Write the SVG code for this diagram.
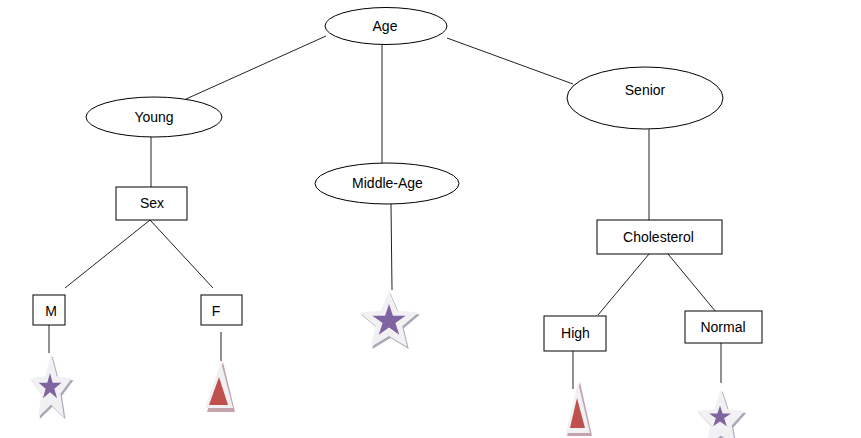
<svg xmlns="http://www.w3.org/2000/svg" xmlns:xlink="http://www.w3.org/1999/xlink" width="861" height="438" viewBox="0 0 861 438">
<style>
.shape{fill:#fff;stroke:#000;stroke-width:1}
.lbl{font-family:"Liberation Sans",Arial,sans-serif;font-size:14px;fill:#000;text-anchor:middle}
.conn line{stroke:#222;stroke-width:1}
.sh{fill:#aaa7b8}
.out{fill:#f1f1f3}
.pur{fill:#8064a2}
.tsh{fill:#c4a4aa}
.red{fill:#c0504d}
</style>
<defs>
<path id="starO" d="M0,-1 L0.2645,-0.3641 L0.9511,-0.309 L0.428,0.1391 L0.5878,0.809 L0,0.45 L-0.5878,0.809 L-0.428,0.1391 L-0.9511,-0.309 L-0.2645,-0.3641 Z"/>
<path id="starI" d="M0,-1 L0.2245,-0.309 L0.9511,-0.309 L0.3633,0.118 L0.5878,0.809 L0,0.382 L-0.5878,0.809 L-0.3633,0.118 L-0.9511,-0.309 L-0.2245,-0.309 Z"/>
</defs>
<rect width="861" height="438" fill="#fff"/>
<g class="conn" id="connectors">
<line x1="326" y1="36" x2="186" y2="99"/>
<line x1="382" y1="44" x2="382" y2="163"/>
<line x1="447" y1="38" x2="573" y2="84"/>
<line x1="151" y1="137" x2="151" y2="187"/>
<line x1="150" y1="220" x2="65" y2="288"/>
<line x1="150" y1="220" x2="213" y2="288"/>
<line x1="649" y1="129" x2="649" y2="220"/>
<line x1="649" y1="254" x2="598" y2="315"/>
<line x1="668" y1="254" x2="716" y2="312"/>
<line x1="391" y1="204" x2="392" y2="290"/>
<line x1="49" y1="325" x2="49" y2="353"/>
<line x1="221" y1="332" x2="221" y2="361"/>
<line x1="573" y1="351" x2="573" y2="389"/>
<line x1="721" y1="343" x2="721" y2="383"/>
</g>
<g id="node-age"><ellipse class="shape" cx="386" cy="26" rx="61" ry="18.5"/><text class="lbl" x="385" y="31">Age</text></g>
<g id="node-young"><ellipse class="shape" cx="154" cy="117" rx="68" ry="20"/><text class="lbl" x="154" y="122">Young</text></g>
<g id="node-middle"><ellipse class="shape" cx="387" cy="183.5" rx="72" ry="20.5"/><text class="lbl" x="387.5" y="188">Middle-Age</text></g>
<g id="node-senior"><ellipse class="shape" cx="645" cy="98" rx="78" ry="31"/><text class="lbl" x="645" y="95">Senior</text></g>
<g id="node-sex"><rect class="shape" x="116" y="187" width="71" height="33"/><text class="lbl" x="152" y="208">Sex</text></g>
<g id="node-chol"><rect class="shape" x="597" y="220" width="125" height="34"/><text class="lbl" x="658.5" y="242">Cholesterol</text></g>
<g id="node-m"><rect class="shape" x="33" y="295" width="32" height="30"/><text class="lbl" x="51" y="316">M</text></g>
<g id="node-f"><rect class="shape" x="201" y="295" width="41" height="30"/><text class="lbl" x="216" y="316">F</text></g>
<g id="node-high"><rect class="shape" x="544" y="316" width="62" height="35"/><text class="lbl" x="575.5" y="338">High</text></g>
<g id="node-normal"><rect class="shape" x="685" y="311" width="77" height="32"/><text class="lbl" x="723" y="332">Normal</text></g>
<g id="leaf-m-star">
<use href="#starO" class="sh" transform="translate(52.5,391) scale(22,35)"/>
<use href="#starO" class="out" transform="translate(51,389) scale(22,35)"/>
<use href="#starI" class="pur" transform="translate(50,387) scale(12,14)"/>
</g>
<g id="leaf-middle-star">
<use href="#starO" class="sh" transform="translate(390.5,324) scale(31,31)"/>
<use href="#starO" class="out" transform="translate(389,322) scale(31,31)"/>
<use href="#starI" class="pur" transform="translate(389,321) scale(17.5,17)"/>
</g>
<g id="leaf-normal-star">
<use href="#starO" class="sh" transform="translate(722.5,423) scale(25,32)"/>
<use href="#starO" class="out" transform="translate(721,421) scale(25,32)"/>
<use href="#starI" class="pur" transform="translate(720,417) scale(11.5,11.5)"/>
</g>
<g id="leaf-f-tri">
<polygon class="tsh" points="223,362 207,412 235,412"/>
<polygon class="out" points="221,362 205,408 233,408"/>
<polygon class="red" points="219,377 209,405 228,405"/>
</g>
<g id="leaf-high-tri">
<polygon class="tsh" points="580,382 567,436 592,436"/>
<polygon class="out" points="578,382 566,433 590,433"/>
<polygon class="red" points="577,398 570,428 585,428"/>
</g>
</svg>
